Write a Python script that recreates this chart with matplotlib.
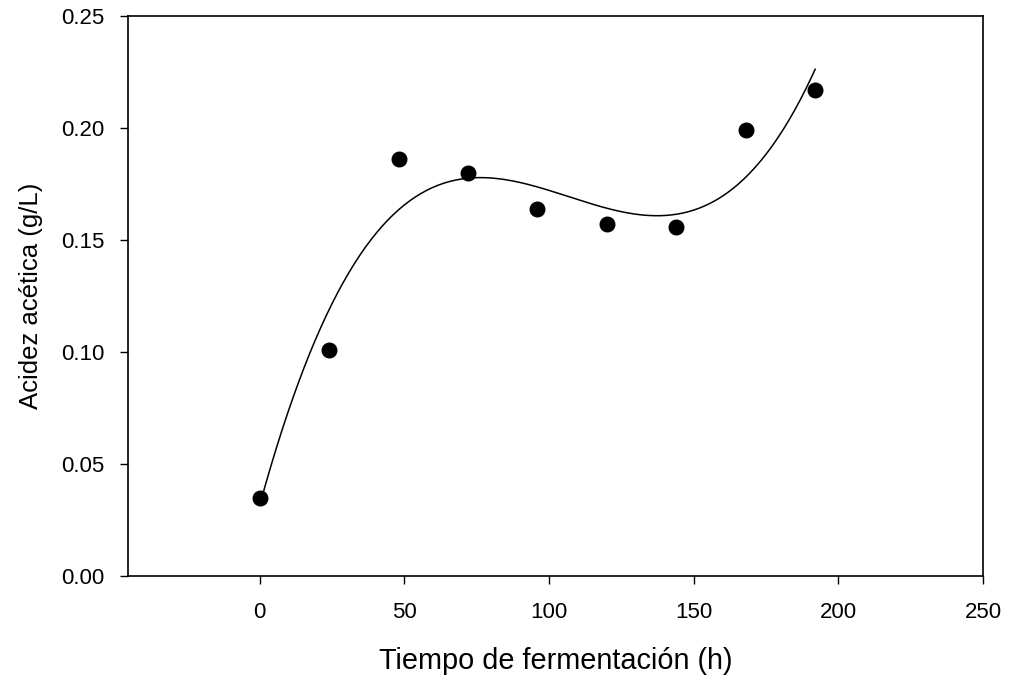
import numpy as np
from matplotlib import pyplot as plt

plt.rcParams["font.family"] = ["Liberation Sans", "DejaVu Sans"]

tiempo = [0, 24, 48, 72, 96, 120, 144, 168, 192]
acidez = [0.035, 0.101, 0.186, 0.180, 0.164, 0.157, 0.156, 0.199, 0.217]

# cubic regression line through the points
coef = np.polyfit(tiempo, acidez, 3)
x_fit = np.linspace(0, 192, 300)
y_fit = np.polyval(coef, x_fit)

fig = plt.figure(figsize=(10.11, 6.77), dpi=100)
ax = fig.add_axes([0.1266, 0.1492, 0.8457, 0.8272])

ax.plot(x_fit, y_fit, color="black", linewidth=1.1)
ax.plot(tiempo, acidez, "o", color="black", markersize=10.5)

ax.set_xlim(-45.5, 249.7)
ax.set_ylim(0, 0.25)
ax.set_xticks([0, 50, 100, 150, 200, 250])
ax.set_yticks([0.00, 0.05, 0.10, 0.15, 0.20, 0.25])
ax.set_yticklabels(["0.00", "0.05", "0.10", "0.15", "0.20", "0.25"])
ax.tick_params(direction="out", length=6, width=1, labelsize=16, pad=11)
ax.tick_params(axis="x", pad=13)
ax.tick_params(top=False, right=False)
for s in ax.spines.values():
    s.set_linewidth(1.2)

ax.set_xlabel("Tiempo de fermentación (h)", fontsize=20.8, labelpad=17)
ax.set_ylabel("Acidez acética (g/L)", fontsize=18.5, labelpad=13)

fig.savefig("out.png", dpi=100)
